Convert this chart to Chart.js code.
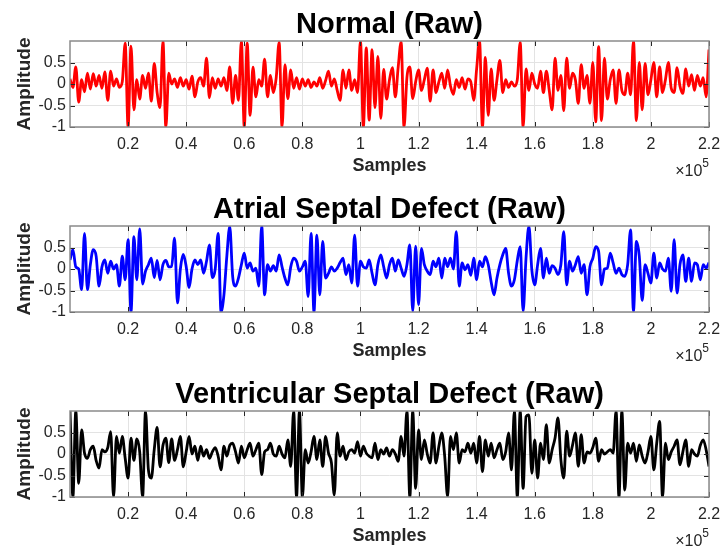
<!DOCTYPE html>
<html>
<head>
<meta charset="utf-8">
<script src="https://cdn.jsdelivr.net/npm/chart.js@4.4.1/dist/chart.umd.min.js"></script>
<style>
  html, body { margin: 0; padding: 0; background: #fff; }
  #wrap { position: relative; width: 721px; height: 546px; overflow: hidden; }
  .panel { position: absolute; left: 0; width: 721px; height: 185px; }
</style>
</head>
<body>
<div id="wrap">
  <div class="panel" style="top:0"><canvas id="normal" width="721" height="185"></canvas></div>
  <div class="panel" style="top:185px"><canvas id="asd" width="721" height="185"></canvas></div>
  <div class="panel" style="top:370px"><canvas id="vsd" width="721" height="185"></canvas></div>
</div>
<script>
(function(){
	'use strict';

	// samples between two readings of the trace
	var STEP = 1000;

	// Normal (Raw), amplitude read every 1000 samples, 0 .. 220000
	var normalAmp = [
		0.12, -0.08, 0.40, -0.42, 0.10, -0.18, 0.25, -0.12, 0.24, -0.05,
		0.20, -0.10, 0.28, -0.38, 0.30, -0.05, 0.12, -0.08, 0.05, 0.95,
		-1.00, 0.88, -0.60, 0.10, -0.35, 0.20, -0.10, 0.25, -0.40, 0.48,
		-0.20, -0.55, 1.00, -1.00, 0.25, 0.00, 0.12, -0.08, 0.15, -0.05,
		0.10, -0.12, 0.18, -0.30, 0.05, 0.15, -0.05, 0.60, -0.32, 0.15,
		-0.10, 0.12, -0.05, 0.15, -0.15, 0.40, -0.45, 0.20, -0.38, 1.00,
		-1.00, 0.95, -0.73, 0.39, -0.30, 0.10, -0.05, 0.58, -0.30, 0.20,
		-0.20, 0.15, 0.97, -1.00, 0.45, -0.34, 0.33, -0.10, 0.15, -0.12,
		0.12, -0.05, 0.10, -0.08, 0.05, -0.05, 0.15, -0.10, 0.08, 0.30,
		-0.05, 0.12, -0.15, -0.38, 0.33, -0.10, 0.33, -0.15, 0.10, -0.20,
		1.00, -1.00, 0.84, -0.84, 0.80, -0.55, 0.64, -0.80, 0.34, -0.35,
		0.10, 0.38, -0.30, 0.40, 0.98, -1.00, 0.15, 0.40, -0.34, 0.05,
		0.33, -0.15, 0.10, 0.37, -0.40, 0.33, -0.20, 0.05, 0.25, -0.10,
		0.33, -0.05, -0.24, 0.10, -0.08, 0.15, -0.12, 0.12, 0.05, -0.38,
		0.35, 1.00, -1.00, 0.62, -0.73, 0.35, -0.38, 0.10, 0.55, -0.20,
		0.10, -0.08, 0.05, -0.05, 0.10, 0.97, -1.00, 0.35, -0.15, 0.25,
		0.00, -0.10, 0.30, -0.20, 0.30, -0.15, -0.60, 0.60, -0.15, 0.20,
		-0.62, 0.60, -0.10, 0.25, 0.10, -0.45, 0.45, -0.10, 0.20, -0.45,
		0.50, -0.88, 0.87, -0.85, 0.60, -0.35, 0.10, 0.33, -0.45, 0.33,
		-0.15, -0.25, 0.25, -0.25, 1.00, -0.85, 0.50, -0.60, 0.48, -0.25,
		0.10, 0.50, -0.30, 0.40, -0.20, 0.10, 0.50, -0.10, -0.20, 0.38,
		-0.05, -0.22, 0.35, -0.05, 0.22, -0.15, 0.20, -0.05, 0.15, -0.30,
		0.80
	];

	// Atrial Septal Defect (Raw)
	var asdAmp = [
		0.21, 0.45, 0.05, 0.00, -0.48, 0.83, -0.48, 0.10, 0.45, 0.30,
		-0.40, 0.05, 0.21, -0.10, 0.18, 0.00, 0.10, -0.40, 0.30, -0.25,
		0.68, -1.00, 0.75, -0.25, 0.93, -0.35, -0.05, 0.10, 0.25, -0.20,
		0.20, -0.25, 0.10, 0.20, 0.05, 0.06, 0.72, -0.79, 0.00, 0.34,
		0.06, -0.43, 0.00, 0.21, 0.10, 0.21, -0.10, 0.18, 0.56, -0.20,
		0.00, 0.83, -1.00, -0.60, 0.30, 0.99, -0.17, -0.40, -0.21, 0.10,
		0.37, 0.02, 0.14, -0.05, 0.02, -0.40, 1.00, -0.60, 0.10, -0.05,
		0.08, -0.05, 0.33, 0.05, -0.21, -0.37, 0.05, 0.25, 0.18, -0.05,
		0.05, 0.18, -0.64, 0.83, -1.00, 0.79, -0.60, 0.64, -0.21, -0.10,
		0.05, -0.05, 0.02, 0.15, 0.25, -0.13, 0.10, -0.33, 0.79, -0.40,
		0.18, 0.05, 0.02, 0.21, -0.10, -0.37, 0.10, 0.33, 0.05, -0.21,
		0.10, 0.25, -0.05, 0.21, 0.02, -0.17, 0.10, 0.56, -0.98, 0.53,
		-0.83, 0.48, 0.10, -0.05, -0.13, 0.18, 0.05, 0.25, -0.21, 0.25,
		0.05, 0.25, 0.00, 0.87, -0.40, 0.14, -0.02, 0.10, -0.15, 0.25,
		-0.25, 0.18, 0.05, 0.29, 0.10, -0.30, -0.60, -0.21, 0.10, 0.33,
		0.48, -0.10, -0.40, -0.25, 0.20, 0.52, -0.98, 0.25, 1.00, -0.02,
		-0.37, 0.10, 0.48, -0.21, 0.25, -0.10, 0.08, 0.02, -0.13, 0.10,
		0.87, -0.37, 0.18, -0.05, 0.10, 0.29, -0.10, 0.10, -0.60, 0.05,
		0.25, 0.52, 0.41, -0.37, 0.00, 0.02, 0.37, 0.14, -0.10, 0.02,
		-0.13, -0.17, 0.10, 0.91, -0.98, 0.64, 0.30, -0.73, 0.10, -0.10,
		-0.33, 0.37, -0.21, 0.14, 0.00, -0.05, 0.25, -0.52, 0.68, -0.56,
		0.10, 0.33, -0.29, 0.25, -0.29, 0.14, 0.10, -0.25, 0.10, 0.02,
		0.15
	];

	// Ventricular Septal Defect (Raw)
	var vsdAmp = [
		1.00, -1.00, 1.00, -0.68, 0.56, 0.02, -0.10, 0.10, 0.18, -0.15,
		-0.33, 0.10, 0.05, 0.15, 0.52, -1.00, 0.41, 0.02, 0.41, -0.10,
		-0.56, 0.37, -0.15, 0.35, 0.05, -1.00, 1.00, -0.37, -0.56, 0.10,
		0.62, -0.30, 0.20, 0.37, -0.20, 0.35, -0.15, 0.10, 0.41, -0.30,
		0.05, 0.41, 0.00, 0.18, -0.15, 0.18, -0.05, 0.10, -0.10, 0.05,
		0.15, -0.05, -0.37, 0.18, -0.05, 0.20, 0.25, 0.05, -0.21, 0.18,
		-0.09, 0.10, 0.25, -0.05, 0.10, 0.25, -0.48, 0.05, 0.10, 0.25,
		0.00, -0.05, 0.18, 0.00, -0.09, 0.33, -0.29, 1.00, -1.00, 1.00,
		-1.00, 0.10, -0.21, 0.05, 0.41, -0.13, 0.33, -0.29, 0.41, 0.02,
		-0.20, -0.95, 0.49, -0.05, 0.18, -0.13, 0.05, 0.10, 0.02, 0.29,
		-0.05, 0.18, 0.02, -0.05, -0.09, 0.25, -0.13, 0.10, 0.00, 0.14,
		-0.05, 0.10, 0.00, -0.17, 0.41, -0.05, 1.00, -1.00, 1.00, -0.80,
		0.56, -0.13, 0.33, 0.00, -0.21, 0.49, -0.21, 0.18, 0.49, -0.05,
		-0.99, 0.41, 0.10, 0.49, -0.21, 0.10, 0.05, 0.25, 0.02, 0.25,
		-0.21, 0.41, -0.41, 0.33, -0.05, 0.25, -0.09, 0.10, 0.25, -0.13,
		0.05, 0.49, -0.37, 1.00, -1.00, 1.00, -0.80, 0.87, 0.91, -0.45,
		0.33, -0.56, 0.25, -0.13, 0.68, -0.21, 0.10, 0.37, 0.84, -0.13,
		-0.56, 0.53, -0.05, 0.20, 0.49, -0.29, 0.45, -0.21, 0.05, 0.02,
		0.15, 0.37, -0.17, 0.10, 0.00, 0.05, 0.10, 0.02, 1.00, -1.00,
		1.00, -0.84, 0.25, 0.02, 0.25, -0.17, 0.21, -0.05, -0.21, 0.05,
		0.41, -0.37, 0.25, 0.76, -1.00, 0.25, -0.13, 0.05, 0.18, 0.33,
		-0.25, 0.05, 0.33, -0.29, 0.10, 0.00, -0.05, 0.20, 0.33, 0.10,
		-0.29
	];

	var xTicks = [0.2, 0.4, 0.6, 0.8, 1, 1.2, 1.4, 1.6, 1.8, 2, 2.2]; // x 10^5
	var yTicks = [-1, -0.5, 0, 0.5];

	var FONT = '"Liberation Sans", Arial, Helvetica, sans-serif';
	var AXIS = '#262626';
	var GRID = '#e3e3e3';

	// MATLAB-like frame: box, inward ticks, title over the axes, x10^5 note
	var matlabFrame = {
		id: 'matlabFrame',
		afterDraw: function(chart, args, opts){
			var ctx = chart.ctx;
			var a = chart.chartArea;
			var xs = chart.scales.x;
			var ys = chart.scales.y;
			ctx.save();
			ctx.strokeStyle = AXIS;
			ctx.lineWidth = 1;
			ctx.beginPath();
			xs.ticks.forEach(function(t){
				var px = Math.round(xs.getPixelForValue(t.value)) + 0.5;
				ctx.moveTo(px, a.bottom); ctx.lineTo(px, a.bottom - 5);
				ctx.moveTo(px, a.top); ctx.lineTo(px, a.top + 5);
			});
			ys.ticks.forEach(function(t){
				var py = Math.round(ys.getPixelForValue(t.value)) + 0.5;
				ctx.moveTo(a.left, py); ctx.lineTo(a.left + 5, py);
				ctx.moveTo(a.right, py); ctx.lineTo(a.right - 5, py);
			});
			ctx.stroke();
			ctx.strokeStyle = '#8a8a8a';
			ctx.lineWidth = 1.5;
			ctx.strokeRect(a.left, a.top, a.right - a.left, a.bottom - a.top);

			ctx.fillStyle = '#000';
			ctx.font = 'bold 29px ' + FONT;
			ctx.textAlign = 'center';
			ctx.textBaseline = 'alphabetic';
			ctx.fillText(opts.title, (a.left + a.right) / 2, 33);

			ctx.fillStyle = AXIS;
			ctx.textAlign = 'right';
			ctx.font = '12px ' + FONT;
			ctx.fillText('5', a.right, 167);
			var w5 = ctx.measureText('5').width;
			ctx.font = '16px ' + FONT;
			ctx.fillText('\u00d710', a.right - w5, 176);
			ctx.restore();
		}
	};

	function panel(id, amps, color, title){
		var points = amps.map(function(v, i){
			return {x: i * STEP, y: v};
		});

		return new Chart(document.getElementById(id), {
			type: 'line',
			data: {
				datasets: [{
					data: points,
					borderColor: color,
					borderWidth: 2.8,
					borderJoinStyle: 'round',
					pointRadius: 0,
					cubicInterpolationMode: 'monotone',
					fill: false,
					clip: 0
				}]
			},
			options: {
				responsive: false,
				animation: false,
				layout: { padding: { top: 41, right: 12, bottom: 0, left: 0 } },
				plugins: {
					legend: { display: false },
					tooltip: { enabled: false },
					matlabFrame: { title: title }
				},
				scales: {
					x: {
						type: 'linear',
						min: 0,
						max: 220000,
						afterBuildTicks: function(s){
							s.ticks = xTicks.map(function(v){ return {value: v * 1e5}; });
						},
						afterFit: function(s){
							s.height = 58;
							s.paddingLeft = 0;
							s.paddingRight = 0;
						},
						grid: { color: GRID, drawTicks: false },
						border: { display: false },
						ticks: {
							padding: 8,
							color: AXIS,
							autoSkip: false,
							maxRotation: 0,
							font: { family: FONT, size: 16 },
							callback: function(v){ return String(Math.round(v / 1e4) / 10); }
						},
						title: {
							display: true,
							text: 'Samples',
							color: AXIS,
							font: { family: FONT, size: 18, weight: 'bold' },
							padding: { top: 0, bottom: 8 }
						}
					},
					y: {
						min: -1,
						max: 1,
						afterBuildTicks: function(s){
							s.ticks = yTicks.map(function(v){ return {value: v}; });
						},
						afterFit: function(s){
							s.width = 70;
							s.paddingTop = 0;
							s.paddingBottom = 0;
						},
						grid: { color: GRID, drawTicks: false },
						border: { display: false },
						ticks: {
							padding: 4,
							color: AXIS,
							font: { family: FONT, size: 16 },
							callback: function(v){ return String(v); }
						},
						title: {
							display: true,
							text: 'Amplitude',
							color: AXIS,
							font: { family: FONT, size: 19, weight: 'bold' },
							padding: { top: 13, bottom: 0 }
						}
					}
				}
			},
			plugins: [matlabFrame]
		});
	}

	panel('normal', normalAmp, '#ff0000', 'Normal (Raw)');
	panel('asd', asdAmp, '#0000ff', 'Atrial Septal Defect (Raw)');
	panel('vsd', vsdAmp, '#000000', 'Ventricular Septal Defect (Raw)');
})();
</script>
</body>
</html>
